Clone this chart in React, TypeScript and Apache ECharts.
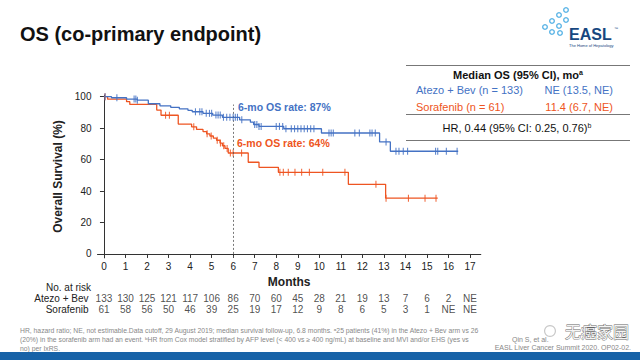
import React, { useEffect, useRef } from "react";
import * as echarts from "echarts";

const monthTicks = [0, 1, 2, 3, 4, 5, 6, 7, 8, 9, 10, 11, 12, 13, 14, 15, 16, 17];
const yTicks = [0, 20, 40, 60, 80, 100];

const atezoTimes = [0, 0.35, 1.05, 1.55, 2.06, 2.6, 3.1, 3.5, 3.9, 4.1, 4.6, 5.05, 5.5, 6.3, 6.8, 6.95, 7.2, 8.35, 10.1, 12.8, 13.3, 16.45];
const atezoSurv = [100, 99.3, 98.5, 97.8, 95.5, 94.2, 93.2, 92.3, 91.3, 90.4, 89.4, 88.3, 86.9, 85.3, 83.8, 82.3, 81.1, 79.6, 76.9, 71.2, 65.3, 65.3];
const atezoCensor = [0.05, 0.6, 1.4, 1.48, 1.55, 4.25, 4.45, 4.55, 4.75, 4.9, 5.0, 5.2, 5.3, 5.4, 5.55, 5.7, 5.85, 6.0, 6.1, 6.2, 6.4, 7.0, 7.1, 7.2, 7.3, 8.0, 8.15, 8.3, 8.45, 8.7, 8.85, 9.0, 9.15, 9.3, 9.45, 9.6, 9.75, 10.45, 10.55, 10.65, 11.65, 11.86, 12.35, 12.45, 12.6, 13.1, 13.56, 13.7, 13.9, 14.1, 15.4, 15.5, 15.9, 16.4];

const soraTimes = [0, 0.17, 1.05, 1.2, 2.45, 2.65, 3.45, 4.07, 4.3, 4.6, 4.77, 4.92, 5.08, 5.23, 5.39, 5.5, 5.62, 5.77, 6.7, 7.2, 8.1, 11.35, 13.08, 15.5];
const soraSurv = [100, 98.4, 96.8, 95.1, 91.5, 88.2, 82.6, 80.8, 79.2, 77.8, 76.4, 75.0, 73.6, 72.3, 70.5, 68.8, 67.1, 64.2, 58.3, 55.1, 51.9, 44.3, 35.5, 35.5];
const soraCensor = [0.05, 2.86, 3.04, 4.17, 4.79, 4.98, 5.26, 5.41, 5.56, 5.72, 5.87, 6.0, 6.39, 8.17, 8.33, 8.56, 8.87, 9.18, 9.54, 10.16, 11.19, 12.63, 13.1, 14.14, 14.91, 15.42];

const riskRows = ["Atezo + Bev", "Sorafenib"];
const riskAtezo = ["133", "130", "125", "121", "117", "106", "86", "70", "60", "45", "28", "21", "19", "13", "7", "6", "2", "NE"];
const riskSora = ["61", "58", "56", "50", "46", "39", "25", "19", "17", "12", "9", "8", "6", "5", "3", "1", "NE", "NE"];

const BLUE = "#4472c4";
const RED = "#ee5522";
const FONT = "'Liberation Sans', Arial, sans-serif";

function survAt(times: number[], surv: number[], t: number) {
  let v = surv[0];
  for (let i = 0; i < times.length; i++) if (times[i] <= t) v = surv[i];
  return v;
}

export default function App() {
  const ref = useRef<HTMLDivElement>(null);
  useEffect(() => {
    if (!ref.current) return;
    const chart = echarts.init(ref.current, null, { renderer: "svg" });
    const logoRings = [
      [566, 10], [559, 15], [566, 20], [552, 21], [559, 26], [545, 27], [552, 32], [560, 33],
    ];
    const option: any = {
      animation: false,
      textStyle: { fontFamily: FONT },
      grid: [
        { left: 97.5, right: 159.2, top: 95.1, bottom: 102.1 },
        { left: 97.5, right: 159.2, top: 292.5, height: 22 },
      ],
      xAxis: [
        {
          type: "value", gridIndex: 0, min: -0.3, max: 17.5,
          axisLine: { lineStyle: { color: "#333", width: 1 } },
          axisTick: { customValues: monthTicks, length: 4, lineStyle: { color: "#333" } },
          axisLabel: { customValues: monthTicks, fontSize: 10, color: "#222", margin: 4, fontFamily: FONT },
          splitLine: { show: false },
          name: "Months", nameLocation: "middle", nameGap: 18,
          nameTextStyle: { fontSize: 12, fontWeight: "bold", color: "#222", fontFamily: FONT },
        },
        { type: "value", gridIndex: 1, min: -0.3, max: 17.5, show: false },
      ],
      yAxis: [
        {
          type: "value", gridIndex: 0, min: -2.5, max: 101,
          axisLine: { show: true, lineStyle: { color: "#333", width: 1 } },
          axisTick: { show: true, customValues: yTicks, length: 4, lineStyle: { color: "#333" } },
          axisLabel: { customValues: yTicks, fontSize: 10, color: "#222", margin: 6, fontFamily: FONT },
          splitLine: { show: false },
          name: "Overall Survival (%)", nameLocation: "middle", nameGap: 27,
          nameTextStyle: { fontSize: 12, fontWeight: "bold", color: "#222", fontFamily: FONT },
        },
        {
          type: "category", gridIndex: 1, data: riskRows, inverse: true,
          axisLine: { show: false }, axisTick: { show: false },
          axisLabel: { interval: 0, fontSize: 10, color: "#222", margin: 9, fontFamily: FONT },
        },
      ],
      series: [
        {
          type: "line", step: "end", xAxisIndex: 0, yAxisIndex: 0, symbol: "none",
          data: soraTimes.map((t, i) => [t, soraSurv[i]]),
          lineStyle: { color: RED, width: 1.3 },
          markLine: {
            silent: true, symbol: "none", label: { show: false },
            lineStyle: { color: "#555", type: [2, 2], width: 0.8 },
            data: [[{ coord: [6, -2.5] }, { coord: [6, 95] }]],
          },
          z: 2,
        },
        {
          type: "line", step: "end", xAxisIndex: 0, yAxisIndex: 0, symbol: "none",
          data: atezoTimes.map((t, i) => [t, atezoSurv[i]]),
          lineStyle: { color: BLUE, width: 1.3 },
          z: 3,
        },
        {
          type: "scatter", xAxisIndex: 0, yAxisIndex: 0, symbol: "rect", symbolSize: [1.1, 7],
          itemStyle: { color: RED, opacity: 0.85 },
          data: soraCensor.map((t) => [t, survAt(soraTimes, soraSurv, t)]),
          z: 4,
        },
        {
          type: "scatter", xAxisIndex: 0, yAxisIndex: 0, symbol: "rect", symbolSize: [1.1, 7],
          itemStyle: { color: BLUE, opacity: 0.85 },
          data: atezoCensor.map((t) => [t, survAt(atezoTimes, atezoSurv, t)]),
          z: 5,
        },
        {
          type: "scatter", xAxisIndex: 1, yAxisIndex: 1, symbolSize: 1,
          itemStyle: { color: "transparent" },
          label: {
            show: true, position: "inside", fontSize: 10, color: "#222", fontFamily: FONT,
            formatter: (p: any) => p.data[2],
          },
          data: [
            ...monthTicks.map((m, i) => [m, riskRows[0], riskAtezo[i]]),
            ...monthTicks.map((m, i) => [m, riskRows[1], riskSora[i]]),
          ],
        },
      ],
      graphic: [
        { type: "text", left: 20, top: 24, style: { text: "OS (co-primary endpoint)", fontSize: 20, fontWeight: "bold", fill: "#111", fontFamily: FONT } },
        ...logoRings.map(([x, y]) => ({ type: "ring", shape: { cx: x, cy: y, r: 3, r0: 1.6 }, style: { fill: "#5ab4e6" } })),
        { type: "text", x: 569, y: 34, style: { text: "EASL", fontSize: 16, fontWeight: "bold", fill: "#17477f", verticalAlign: "middle", fontFamily: FONT } },
        { type: "text", x: 614, y: 28, style: { text: "™", fontSize: 4, fill: "#17477f", verticalAlign: "middle", fontFamily: FONT } },
        { type: "text", x: 569, y: 45.5, style: { text: "The Home of Hepatology", fontSize: 4, fill: "#17477f", verticalAlign: "middle", fontFamily: FONT } },
        // annotations
        { type: "text", x: 238, y: 107, style: { text: "6-mo OS rate: 87%", fontSize: 10.5, fontWeight: "bold", fill: BLUE, verticalAlign: "middle", fontFamily: FONT } },
        { type: "text", x: 237, y: 142.5, style: { text: "6-mo OS rate: 64%", fontSize: 10.5, fontWeight: "bold", fill: RED, verticalAlign: "middle", fontFamily: FONT } },
        // median table
        { type: "line", shape: { x1: 406, y1: 65.5, x2: 630, y2: 65.5 }, style: { stroke: "#777", lineWidth: 1 } },
        {
          type: "text", x: 518, y: 75, style: {
            text: "{b|Median OS (95% CI), mo}{s|a}", align: "center", verticalAlign: "middle",
            rich: { b: { fontSize: 11, fontWeight: "bold", fill: "#111", fontFamily: FONT }, s: { fontSize: 7, fontWeight: "bold", fill: "#111", verticalAlign: "top", padding: [0, 0, 6, 0] } },
          },
        },
        { type: "text", x: 416, y: 90, style: { text: "Atezo + Bev (n = 133)", fontSize: 11, fill: BLUE, verticalAlign: "middle", fontFamily: FONT } },
        { type: "text", x: 613, y: 90, style: { text: "NE (13.5, NE)", fontSize: 11, fill: BLUE, align: "right", verticalAlign: "middle", fontFamily: FONT } },
        { type: "text", x: 416, y: 106.5, style: { text: "Sorafenib (n = 61)", fontSize: 11, fill: RED, verticalAlign: "middle", fontFamily: FONT } },
        { type: "text", x: 613, y: 106.5, style: { text: "11.4 (6.7, NE)", fontSize: 11, fill: RED, align: "right", verticalAlign: "middle", fontFamily: FONT } },
        { type: "line", shape: { x1: 406, y1: 114.5, x2: 630, y2: 114.5 }, style: { stroke: "#777", lineWidth: 1 } },
        {
          type: "text", x: 517, y: 128, style: {
            text: "{n|HR, 0.44 (95% CI: 0.25, 0.76)}{s|b}", align: "center", verticalAlign: "middle",
            rich: { n: { fontSize: 11, fill: "#111", fontFamily: FONT }, s: { fontSize: 7, fill: "#111", padding: [0, 0, 6, 0] } },
          },
        },
        { type: "line", shape: { x1: 406, y1: 140.5, x2: 630, y2: 140.5 }, style: { stroke: "#777", lineWidth: 1 } },
        // at risk header
        { type: "text", x: 46, y: 287, style: { text: "No. at risk", fontSize: 10, fill: "#222", verticalAlign: "middle", fontFamily: FONT } },
        // footnotes
        { type: "text", x: 20, y: 330, style: { text: "HR, hazard ratio; NE, not estimable.Data cutoff, 29 August 2019; median survival follow-up, 6.8 months. ᵃ25 patients (41%) in the Atezo + Bev arm vs 26", fontSize: 6.8, fill: "#888", verticalAlign: "middle", fontFamily: FONT } },
        { type: "text", x: 20, y: 339, style: { text: "(20%) in the sorafenib arm had an event. ᵇHR from Cox model stratified by AFP level (< 400 vs ≥ 400 ng/mL) at baseline and MVI and/or EHS (yes vs", fontSize: 6.8, fill: "#888", verticalAlign: "middle", fontFamily: FONT } },
        { type: "text", x: 20, y: 348, style: { text: "no) per IxRS.", fontSize: 6.8, fill: "#888", verticalAlign: "middle", fontFamily: FONT } },
        { type: "text", x: 512, y: 339, style: { text: "Qin S, et al.", fontSize: 7, fill: "#888", verticalAlign: "middle", fontFamily: FONT } },
        { type: "text", x: 631, y: 347.5, style: { text: "EASL Liver Cancer Summit 2020. OP02-02.", fontSize: 7, fill: "#888", align: "right", verticalAlign: "middle", fontFamily: FONT } },
        // watermark
        { type: "ring", shape: { cx: 550, cy: 331, r: 6, r0: 4.8 }, style: { fill: "#c8c8c8" } },
        { type: "text", x: 597, y: 331, style: { text: "无癌家园", fontSize: 16, fill: "#f4f4f4", stroke: "#666", lineWidth: 0.8, align: "center", verticalAlign: "middle", fontFamily: "'Noto Sans CJK SC', sans-serif" } },
        // bottom bar
        { type: "rect", shape: { x: 0, y: 352, width: 640, height: 8 }, style: { fill: "#1762a7" } },
      ],
    };
    chart.setOption(option);
    return () => chart.dispose();
  }, []);
  return <div ref={ref} style={{ width: 640, height: 360, position: "fixed", left: 0, top: 0, background: "#fff" }} />;
}
